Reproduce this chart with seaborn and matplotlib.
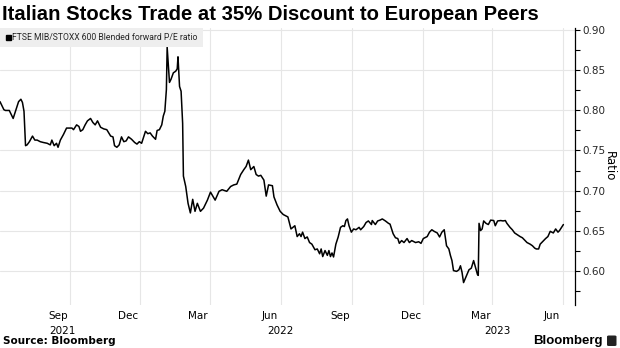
import matplotlib
matplotlib.use("Agg")
import matplotlib.pyplot as plt
import matplotlib.dates as mdates
from matplotlib.ticker import FixedLocator, FixedFormatter, MultipleLocator, FormatStrFormatter
from matplotlib.lines import Line2D
from matplotlib.patches import FancyBboxPatch
import pandas as pd
import seaborn as sns

# FTSE MIB / STOXX 600 blended forward P/E ratio
dates = [
    "2021-06-03", "2021-06-08", "2021-06-10", "2021-06-15", "2021-06-20", "2021-06-23",
    "2021-06-27", "2021-06-30", "2021-07-02", "2021-07-04", "2021-07-06", "2021-07-08",
    "2021-07-11", "2021-07-15", "2021-07-18", "2021-07-21", "2021-07-25", "2021-07-29",
    "2021-08-03", "2021-08-07", "2021-08-09", "2021-08-12", "2021-08-15", "2021-08-17",
    "2021-08-20", "2021-08-24", "2021-08-28", "2021-08-31", "2021-09-04", "2021-09-06",
    "2021-09-10", "2021-09-13", "2021-09-15", "2021-09-18", "2021-09-21", "2021-09-24",
    "2021-09-28", "2021-10-01", "2021-10-04", "2021-10-07", "2021-10-11", "2021-10-15",
    "2021-10-19", "2021-10-24", "2021-10-27", "2021-10-29", "2021-11-01", "2021-11-04",
    "2021-11-07", "2021-11-10", "2021-11-13", "2021-11-16", "2021-11-20", "2021-11-24",
    "2021-11-27", "2021-11-30", "2021-12-03", "2021-12-06", "2021-12-08", "2021-12-11",
    "2021-12-14", "2021-12-17", "2021-12-21", "2021-12-23", "2021-12-26", "2021-12-29",
    "2021-12-31", "2022-01-02", "2022-01-04", "2022-01-05", "2022-01-08", "2022-01-10",
    "2022-01-13", "2022-01-16", "2022-01-18", "2022-01-19", "2022-01-21", "2022-01-23",
    "2022-01-25", "2022-01-26", "2022-01-29", "2022-02-01", "2022-02-04", "2022-02-07",
    "2022-02-10", "2022-02-13", "2022-02-17", "2022-02-21", "2022-02-26", "2022-03-02",
    "2022-03-08", "2022-03-13", "2022-03-17", "2022-03-23", "2022-03-28", "2022-04-01",
    "2022-04-05", "2022-04-10", "2022-04-14", "2022-04-17", "2022-04-20", "2022-04-23",
    "2022-04-27", "2022-04-30", "2022-05-03", "2022-05-06", "2022-05-10", "2022-05-13",
    "2022-05-16", "2022-05-21", "2022-05-23", "2022-05-27", "2022-05-31", "2022-06-04",
    "2022-06-10", "2022-06-14", "2022-06-19", "2022-06-22", "2022-06-25", "2022-06-27",
    "2022-06-29", "2022-07-02", "2022-07-05", "2022-07-08", "2022-07-11", "2022-07-15",
    "2022-07-18", "2022-07-21", "2022-07-23", "2022-07-25", "2022-07-28", "2022-07-31",
    "2022-08-02", "2022-08-04", "2022-08-06", "2022-08-08", "2022-08-11", "2022-08-14",
    "2022-08-17", "2022-08-20", "2022-08-22", "2022-08-24", "2022-08-26", "2022-08-28",
    "2022-08-31", "2022-09-03", "2022-09-06", "2022-09-10", "2022-09-12", "2022-09-16",
    "2022-09-19", "2022-09-22", "2022-09-26", "2022-09-27", "2022-10-01", "2022-10-04",
    "2022-10-07", "2022-10-10", "2022-10-14", "2022-10-18", "2022-10-20", "2022-10-24",
    "2022-10-27", "2022-10-30", "2022-11-01", "2022-11-04", "2022-11-07", "2022-11-11",
    "2022-11-14", "2022-11-17", "2022-11-22", "2022-11-26", "2022-11-29", "2022-12-02",
    "2022-12-07", "2022-12-10", "2022-12-13", "2022-12-16", "2022-12-20", "2022-12-23",
    "2022-12-26", "2022-12-29", "2023-01-01", "2023-01-04", "2023-01-06", "2023-01-08",
    "2023-01-10", "2023-01-14", "2023-01-17", "2023-01-19", "2023-01-21", "2023-01-23",
    "2023-01-27", "2023-01-30", "2023-02-02", "2023-02-05", "2023-02-08", "2023-02-10",
    "2023-02-11", "2023-02-12", "2023-02-14", "2023-02-16", "2023-02-18", "2023-02-21",
    "2023-02-24", "2023-02-27", "2023-03-03", "2023-03-05", "2023-03-08", "2023-03-12",
    "2023-03-15", "2023-03-18", "2023-03-20", "2023-03-24", "2023-03-27", "2023-03-30",
    "2023-04-02", "2023-04-06", "2023-04-09", "2023-04-12", "2023-04-15", "2023-04-19",
    "2023-04-22", "2023-04-25", "2023-04-27", "2023-04-30", "2023-05-02", "2023-05-06",
    "2023-05-09", "2023-05-12", "2023-05-15", "2023-05-19", "2023-05-22", "2023-05-25",
    "2023-05-27", "2023-05-29", "2023-06-01",
]
ratio = [
    0.811, 0.801, 0.800, 0.800, 0.790, 0.799,
    0.811, 0.814, 0.810, 0.799, 0.756, 0.757,
    0.761, 0.768, 0.763, 0.763, 0.761, 0.760,
    0.759, 0.757, 0.763, 0.756, 0.759, 0.754,
    0.763, 0.770, 0.778, 0.778, 0.778, 0.776,
    0.782, 0.780, 0.774, 0.776, 0.782, 0.787,
    0.790, 0.785, 0.782, 0.787, 0.779, 0.777,
    0.776, 0.768, 0.767, 0.756, 0.754, 0.757,
    0.767, 0.761, 0.762, 0.767, 0.764, 0.760,
    0.758, 0.761, 0.759, 0.768, 0.774, 0.771,
    0.772, 0.768, 0.764, 0.775, 0.776, 0.782,
    0.793, 0.799, 0.826, 0.879, 0.835, 0.839,
    0.847, 0.849, 0.852, 0.867, 0.830, 0.824,
    0.784, 0.718, 0.705, 0.684, 0.672, 0.689,
    0.674, 0.684, 0.674, 0.678, 0.688, 0.698,
    0.688, 0.699, 0.701, 0.699, 0.705, 0.707,
    0.708, 0.720, 0.726, 0.730, 0.738, 0.726,
    0.730, 0.720, 0.718, 0.719, 0.713, 0.693,
    0.707, 0.706, 0.692, 0.682, 0.674, 0.670,
    0.667, 0.652, 0.656, 0.6425, 0.646, 0.6425,
    0.648, 0.640, 0.642, 0.635, 0.633, 0.626,
    0.627, 0.621, 0.627, 0.6175, 0.625, 0.619,
    0.625, 0.6175, 0.622, 0.617, 0.633, 0.642,
    0.654, 0.656, 0.655, 0.6625, 0.6645, 0.656,
    0.648, 0.652, 0.651, 0.654, 0.651, 0.655,
    0.660, 0.662, 0.6575, 0.6625, 0.6575, 0.662,
    0.663, 0.6645, 0.662, 0.659, 0.658, 0.646,
    0.641, 0.640, 0.634, 0.6375, 0.635, 0.640,
    0.635, 0.6375, 0.635, 0.636, 0.634, 0.640,
    0.6425, 0.648, 0.651, 0.649, 0.647, 0.642,
    0.648, 0.651, 0.631, 0.627, 0.619, 0.6125,
    0.600, 0.599, 0.601, 0.606, 0.598, 0.585,
    0.594, 0.601, 0.603, 0.6125, 0.602, 0.595,
    0.594, 0.659, 0.650, 0.652, 0.662, 0.659,
    0.6575, 0.663, 0.6625, 0.656, 0.662, 0.6625,
    0.662, 0.6625, 0.659, 0.654, 0.651, 0.647,
    0.645, 0.6425, 0.641, 0.638, 0.635, 0.633,
    0.631, 0.628, 0.627, 0.627, 0.633, 0.637,
    0.640, 0.6425, 0.649, 0.647, 0.652, 0.648,
    0.650, 0.653, 0.6575,
]

month_labels = ["Sep", "Dec", "Mar", "Jun", "Sep", "Dec", "Mar", "Jun"]
month_label_dates = ["2021-08-17", "2021-11-16", "2022-02-14", "2022-05-17",
                     "2022-08-17", "2022-11-16", "2023-02-14", "2023-05-17"]
year_labels = ["2021", "2022", "2023"]
year_label_dates = ["2021-08-23", "2022-06-01", "2023-03-08"]

title = "Italian Stocks Trade at 35% Discount to European Peers"
series_name = "FTSE MIB/STOXX 600 Blended forward P/E ratio"

df = pd.DataFrame({"date": pd.to_datetime(dates), "ratio": ratio})

sns.set_theme(style="white")
plt.rcParams["font.family"] = ["DejaVu Sans"]

W, H = 620, 348
fig = plt.figure(figsize=(W / 100, H / 100), dpi=100)
ax_left, ax_right, ax_top, ax_bottom = 0, 575, 28, 305
ax = fig.add_axes([ax_left / W, 1 - ax_bottom / H,
                   (ax_right - ax_left) / W, (ax_bottom - ax_top) / H])

sns.lineplot(data=df, x="date", y="ratio", ax=ax, color="black",
             linewidth=1.1, legend=False)

ax.set_xlim(pd.Timestamp("2021-06-03"), pd.Timestamp("2023-06-16"))
ax.set_ylim(0.557, 0.903)

# spines
for side in ("top", "left", "bottom"):
    ax.spines[side].set_visible(False)
ax.spines["right"].set_visible(True)
ax.spines["right"].set_color("black")
ax.spines["right"].set_linewidth(0.9)

# y axis on the right
ax.yaxis.tick_right()
ax.yaxis.set_label_position("right")
ax.yaxis.set_major_locator(MultipleLocator(0.05))
ax.yaxis.set_minor_locator(MultipleLocator(0.025))
ax.yaxis.set_major_formatter(FormatStrFormatter("%.2f"))
ax.tick_params(axis="y", which="both", direction="out", length=3.5, width=0.8,
               color="black", labelsize=7.5, pad=1.5, left=False, right=True)
ax.tick_params(axis="y", which="minor", length=3.5)
ax.set_ylabel("Ratio", rotation=270, fontsize=8.5, labelpad=8, color="black")

# x axis: gridlines at quarter starts, labels between
ax.xaxis.set_major_locator(mdates.MonthLocator(bymonth=(3, 6, 9, 12), bymonthday=1))
ax.xaxis.set_major_formatter(FixedFormatter([""] * 20))
ax.xaxis.set_minor_locator(FixedLocator(mdates.date2num(pd.to_datetime(month_label_dates))))
ax.xaxis.set_minor_formatter(FixedFormatter(month_labels))
ax.tick_params(axis="x", which="both", length=0, labelsize=7.5, pad=4, colors="black")

for lbl, d in zip(year_labels, year_label_dates):
    ax.annotate(lbl, xy=(mdates.date2num(pd.Timestamp(d)), 0),
                xycoords=("data", "axes fraction"), xytext=(0, -19),
                textcoords="offset points", ha="center", va="center",
                fontsize=7.5, color="black")

ax.grid(True, axis="both", which="major", color="#e6e6e6", linewidth=0.8)
ax.set_axisbelow(True)
ax.set_xlabel("")

# legend box
handle = Line2D([], [], marker="s", color="black", linestyle="none", markersize=3.6)
leg = ax.legend([handle], [series_name], loc="upper left", bbox_to_anchor=(0, 1.0),
                frameon=True, fancybox=False, facecolor="#eeeeee", edgecolor="none",
                framealpha=1, borderpad=0.6, handletextpad=0.1, handlelength=0.7,
                borderaxespad=0,
                prop={"family": ["Roboto", "DejaVu Sans"], "size": 6.2})

# title, fitted to its width
t = fig.text(2 / W, 1 - 15 / H, title, fontsize=14, fontweight="bold",
             family=["Liberation Sans", "DejaVu Sans"], ha="left", va="center",
             color="black")
fig.canvas.draw()
bb = t.get_window_extent()
t.set_fontsize(14 * 538 / bb.width)

# footer
fig.text(3 / W, 1 - 341 / H, "Source: Bloomberg", fontsize=7.5, fontweight="bold",
         ha="left", va="center", color="black")
fig.text(603 / W, 1 - 341 / H, "Bloomberg", fontsize=9.5, fontweight="bold",
         ha="right", va="center", color="black",
         family=["Liberation Sans", "DejaVu Sans"])
icon = FancyBboxPatch((607 / W, 1 - 346 / H), 9.5 / W, 10.5 / H,
                      boxstyle="round,pad=0,rounding_size=0.003",
                      transform=fig.transFigure, facecolor="#222222", edgecolor="none")
fig.patches.append(icon)

fig.savefig("out.png", dpi=100)
